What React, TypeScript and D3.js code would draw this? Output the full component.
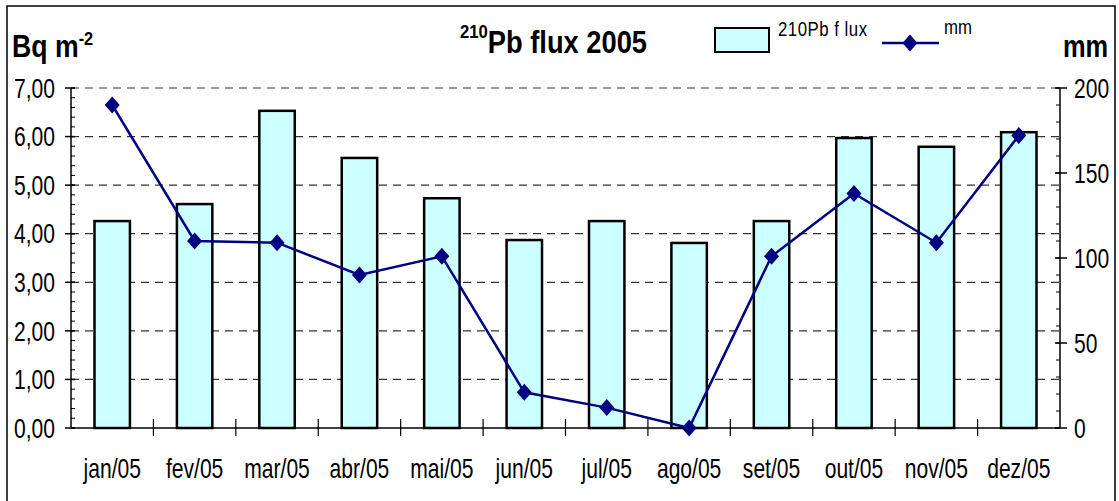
import React from "react";
import * as d3 from "d3";

const months = ["jan/05", "fev/05", "mar/05", "abr/05", "mai/05", "jun/05", "jul/05", "ago/05", "set/05", "out/05", "nov/05", "dez/05"];
const pbFlux = [4.26, 4.61, 6.53, 5.56, 4.73, 3.87, 4.26, 3.81, 4.26, 5.97, 5.79, 6.09];
const rainMm = [190, 110, 109, 90, 101, 21, 12, 0, 101, 138, 109, 172];
const leftTicks = [0, 1, 2, 3, 4, 5, 6, 7];
const rightTicks = [0, 50, 100, 150, 200];

const W = 1119;
const H = 501;
const FONT = "'Liberation Sans', Arial, sans-serif";
const NAVY = "#000080";

const diamond = (cx: number, cy: number, rx = 7.5, ry = 8.5) =>
  `M${cx},${cy - ry}L${cx + rx},${cy}L${cx},${cy + ry}L${cx - rx},${cy}Z`;

// narrow text: the original uses a condensed face, so squeeze horizontally
const NText = ({ x, y, sx = 0.78, children, ...rest }: any) => (
  <text transform={`translate(${x},${y}) scale(${sx},1)`} {...rest}>
    {children}
  </text>
);

const App = () => {
  const margin = { left: 71, right: 1060, top: 88, bottom: 428 };

  const x = d3.scaleBand().domain(months).range([margin.left, margin.right]).padding(0);
  const yL = d3.scaleLinear().domain([0, 7]).range([margin.bottom, margin.top]);
  const yR = d3.scaleLinear().domain([0, 200]).range([margin.bottom, margin.top]);

  const barW = x.bandwidth() * 0.43;
  const cx = (m: string) => (x(m) as number) + x.bandwidth() / 2;

  const line = d3
    .line<number>()
    .x((_, i) => cx(months[i]))
    .y((d) => yR(d));

  const minorL = d3.range(0, 7.001, 0.2);
  const minorR = d3.range(0, 200.1, 10);

  return (
    <div style={{ position: "fixed", left: 0, top: 0 }}>
      <svg width={W} height={H} style={{ display: "block", fontFamily: FONT }}>
        <rect x={0} y={0} width={W} height={H} fill="#fff" />
        <rect x={7} y={6} width={1108} height={510} fill="none" stroke="#000" strokeWidth={1.5} />

        {/* gridlines */}
        {leftTicks
          .filter((t) => t > 0)
          .map((t) => (
            <line
              key={"g" + t}
              x1={margin.left}
              x2={margin.right}
              y1={yL(t)}
              y2={yL(t)}
              stroke="#333"
              strokeWidth={1.2}
              strokeDasharray="8,6"
            />
          ))}

        {/* bars */}
        {pbFlux.map((v, i) => (
          <rect
            key={"b" + i}
            x={cx(months[i]) - barW / 2}
            y={yL(v)}
            width={barW}
            height={yL(0) - yL(v)}
            fill="#ccffff"
            stroke="#000"
            strokeWidth={2.5}
          />
        ))}

        {/* left axis */}
        <line x1={margin.left} x2={margin.left} y1={margin.top} y2={margin.bottom} stroke="#000" strokeWidth={1.5} />
        {minorL.map((t, i) => (
          <line key={"ml" + i} x1={margin.left} x2={margin.left + 4} y1={yL(t)} y2={yL(t)} stroke="#000" strokeWidth={1} />
        ))}
        {leftTicks.map((t) => (
          <g key={"lt" + t}>
            <line x1={margin.left - 6} x2={margin.left + 4} y1={yL(t)} y2={yL(t)} stroke="#000" strokeWidth={1.5} />
            <NText x={55} y={yL(t)} dy="0.36em" textAnchor="end" fontSize={27}>
              {d3.format(".2f")(t).replace(".", ",")}
            </NText>
          </g>
        ))}

        {/* right axis */}
        <line x1={margin.right} x2={margin.right} y1={margin.top} y2={margin.bottom} stroke="#000" strokeWidth={1.5} />
        {minorR.map((t, i) => (
          <line key={"mr" + i} x1={margin.right - 4} x2={margin.right} y1={yR(t)} y2={yR(t)} stroke="#000" strokeWidth={1} />
        ))}
        {rightTicks.map((t) => (
          <g key={"rt" + t}>
            <line x1={margin.right - 5} x2={margin.right + 7} y1={yR(t)} y2={yR(t)} stroke="#000" strokeWidth={1.5} />
            <NText x={1074} y={yR(t)} dy="0.36em" textAnchor="start" fontSize={27}>
              {t}
            </NText>
          </g>
        ))}

        {/* bottom axis */}
        <line x1={margin.left} x2={margin.right} y1={margin.bottom} y2={margin.bottom} stroke="#000" strokeWidth={1.5} />
        {months.slice(1).map((m) => (
          <line key={"xt" + m} x1={x(m)} x2={x(m)} y1={margin.bottom - 9} y2={margin.bottom + 8} stroke="#000" strokeWidth={1.2} />
        ))}
        {months.map((m) => (
          <NText key={"xl" + m} x={cx(m)} y={478} textAnchor="middle" fontSize={27}>
            {m}
          </NText>
        ))}

        {/* line series */}
        <path d={line(rainMm) || ""} fill="none" stroke={NAVY} strokeWidth={2.5} />
        {rainMm.map((v, i) => (
          <path key={"d" + i} d={diamond(cx(months[i]), yR(v))} fill={NAVY} />
        ))}

        {/* axis titles */}
        <NText x={12} y={57} sx={0.86} fontSize={31} fontWeight="bold">
          Bq m<tspan dy={-12} fontSize={19}>-2</tspan>
        </NText>
        <NText x={1063} y={57} sx={0.82} fontSize={31} fontWeight="bold">
          mm
        </NText>

        {/* chart title */}
        <NText x={460} y={53} sx={0.88} fontSize={31} fontWeight="bold">
          <tspan dy={-15} fontSize={19}>210</tspan>
          <tspan dy={15}>Pb flux 2005</tspan>
        </NText>

        {/* legend */}
        <rect x={715} y={28} width={54} height={24} fill="#ccffff" stroke="#000" strokeWidth={2} />
        <NText x={778} y={36} sx={0.84} fontSize={20} letterSpacing={0.6}>
          210Pb f lux
        </NText>
        <line x1={882} x2={939} y1={43} y2={43} stroke={NAVY} strokeWidth={2.5} />
        <path d={diamond(910, 43)} fill={NAVY} />
        <NText x={944} y={34} sx={0.84} fontSize={20}>
          mm
        </NText>
      </svg>
    </div>
  );
};

export default App;
